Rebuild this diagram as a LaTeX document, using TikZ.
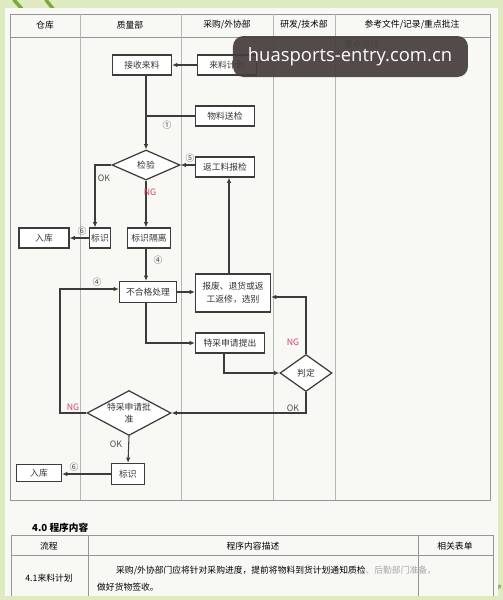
\documentclass[tikz,border=0pt]{standalone}
\usepackage{fontspec}
\setmainfont{Noto Sans CJK SC}
\newfontfamily\wmfont{Open Sans}
\usetikzlibrary{arrows.meta, shapes.geometric, calc}
\definecolor{bggreen}{RGB}{223,234,192}
\definecolor{leafgreen}{RGB}{120,170,60}
\definecolor{paper}{RGB}{248,248,245}
\definecolor{rule}{RGB}{150,150,150}
\definecolor{ink}{RGB}{60,60,60}
\definecolor{ngred}{RGB}{205,70,95}
\definecolor{wmgrey}{RGB}{70,60,60}

\begin{document}
\begin{tikzpicture}[x=0.02cm, y=-0.02cm, font=\fontsize{5}{6.5}\selectfont,
  box/.style={draw=ink, line width=0.7pt, fill=white, inner sep=0pt, minimum height=0.4cm, text=black!80},
  decision/.style={diamond, draw=ink, line width=0.7pt, fill=white, inner sep=0pt, align=center, text=black!80},
  flow/.style={draw=ink, line width=0.6pt},
  arr/.style={flow, -{Latex[length=3pt, width=2.6pt]}},
  tag/.style={text=black!70, inner sep=0.5pt},
  ngtag/.style={text=ngred, inner sep=0.5pt}]
  \useasboundingbox (0,0) rectangle (503,600);
  % background and paper
  \fill[bggreen] (0,0) rectangle (503,600);
  \draw[leafgreen, line width=2pt, line cap=round] (14,0) -- (22,9);
  \draw[leafgreen, line width=2pt, line cap=round] (46,0) -- (54,10);
  \draw[leafgreen!80, line width=2pt, line cap=round] (478,600) -- (500,586);
  \fill[paper] (5,8) rectangle (498,596);

  % swimlane table
  \draw[rule, line width=0.5pt] (10,14) rectangle (490,500);
  \draw[rule, line width=0.5pt] (10,37) -- (490,37);
  \foreach \xx in {80,181,273,335}
    \draw[rule!70, line width=0.4pt] (\xx,14) -- (\xx,500);
  \node (h1) at (45,25) {仓库};
  \node (h2) at (130,25) {质量部};
  \node (h3) at (227,25) {采购/外协部};
  \node (h4) at (304,25) {研发/技术部};
  \node (h5) at (412,25) {参考文件/记录/重点批注};
  \node[anchor=west, text=black!60] (note) at (338,44) {重点批注:};

  % flow nodes
  \node[box, minimum width=1.18cm] (recv) at (142,65) {接收来料};
  \node[box, minimum width=1.18cm] (plan) at (227,65) {来料计划};
  \node[box, minimum width=1.18cm] (send) at (225,116) {物料送检};
  \node[decision, aspect=2.2, minimum width=1.36cm, minimum height=0.6cm] (check) at (146,165) {检验};
  \node[box, minimum width=1.18cm] (rework) at (225,167) {返工料报检};
  \node[box, minimum width=0.42cm] (mark1) at (100,238) {标识};
  \node[box, minimum width=1.0cm] (store1) at (44,238) {入库};
  \node[box, minimum width=0.86cm] (iso) at (149,238) {标识隔离};
  \node[box, minimum width=1.14cm, minimum height=0.42cm] (ncr) at (148,292) {不合格处理};
  \node[box, minimum width=1.5cm, minimum height=0.76cm, align=center] (scrap) at (233,293) {报废、退货或返\\[1pt]工返修，选别};
  \node[box, minimum width=1.38cm] (apply) at (230,343) {特采申请提出};
  \node[decision, aspect=1.4, minimum width=1.04cm, minimum height=0.74cm] (judge) at (306,373) {判定};
  \node[decision, aspect=1.9, minimum width=1.68cm, minimum height=0.9cm] (approve) at (129,413) {特采申请批\\准};
  \node[box, minimum width=0.66cm, minimum height=0.42cm] (mark2) at (128,474) {标识};
  \node[box, minimum width=0.9cm, minimum height=0.34cm] (store2) at (39,473) {入库};

  % connectors
  \draw[arr] (plan.west) -- (recv.east);
  \draw[arr] (check.north |- recv.south) -- (check.north);
  \draw[flow] (send.west) -- (send.west -| check.north);
  \draw[arr] (rework.west |- check.east) -- (check.east);
  \draw[arr] (check.west) -| ($(mark1.north)+(-5,0)$);
  \draw[arr] (check.south) -- (check.south |- iso.north);
  \draw[arr] (mark1.west) -- (store1.east);
  \draw[arr] (iso.south -| check.south) -- (ncr.north -| check.south);
  \draw[arr] (ncr.east) -- (scrap.west |- ncr.east);
  \coordinate (up) at ($(scrap.north)+(-4,0)$);
  \draw[arr] (up) -- (up |- rework.south);
  \draw[arr] (ncr.south -| check.south) |- (apply.west);
  \coordinate (down) at ($(apply.south)+(-6,0)$);
  \draw[arr] (down) |- (judge.west);
  \coordinate (back) at ($(scrap.east)+(0,4)$);
  \draw[arr] (judge.north) |- (back);
  \draw[arr] (judge.south) |- (approve.east);
  \coordinate (loop) at (60,413);
  \coordinate (entry) at ($(ncr.west)+(0,-3)$);
  \draw[arr] (approve.west) -- (loop) |- (entry);
  \draw[arr] (approve.south) -- (mark2.north);
  \draw[arr] (mark2.west) -- (mark2.west -| store2.east);

  % connector labels
  \node[tag] (n1) at (167,125) {①};
  \node[tag] (n5) at (190,158) {⑤};
  \node[tag] (okcheck) at (104,178) {OK};
  \node[ngtag] (ngcheck) at (150,192) {NG};
  \node[tag] (n6a) at (82,231) {⑥};
  \node[tag] (n4a) at (158,260) {④};
  \node[tag] (n4b) at (97,282) {④};
  \node[ngtag] (ngjudge) at (293,342) {NG};
  \node[tag] (okjudge) at (293,408) {OK};
  \node[ngtag] (ngapprove) at (73,407) {NG};
  \node[tag] (okapprove) at (116,444) {OK};
  \node[tag] (n6b) at (74,467) {⑥};

  % procedure table
  \node[anchor=west, font=\fontsize{5.5}{7}\selectfont\bfseries] (sect) at (26,528) {4.0 程序内容};
  \draw[rule, line width=0.5pt] (11,535) -- (493,535) -- (493,596);
  \draw[rule, line width=0.5pt] (11,535) -- (11,596);
  \draw[rule, line width=0.5pt] (11,555) -- (493,555);
  \draw[rule, line width=0.5pt] (88,535) -- (88,596) (418,535) -- (418,596);
  \node (t1) at (49,546) {流程};
  \node (t2) at (253,546) {程序内容描述};
  \node (t3) at (455,546) {相关表单};
  \node (t4) at (49,578) {4.1来料计划};
  \node[anchor=west] (t5) at (110,571) {采购/外协部门应将针对采购进度，提前将物料到货计划通知质检\textcolor{black!35}{、后勤部门准备，}};
  \node[anchor=west] (t6) at (91,587) {做好货物签收。};
  \fill[bggreen] (0,596) rectangle (503,600);

  % watermark
  \fill[wmgrey, opacity=0.92, rounded corners=6pt] (233,36) rectangle (468,77);
  \node[text=white, font=\wmfont\fontsize{10.5}{12}\selectfont] (wm) at (350,57) {huasports-entry.com.cn};
\end{tikzpicture}
\end{document}
